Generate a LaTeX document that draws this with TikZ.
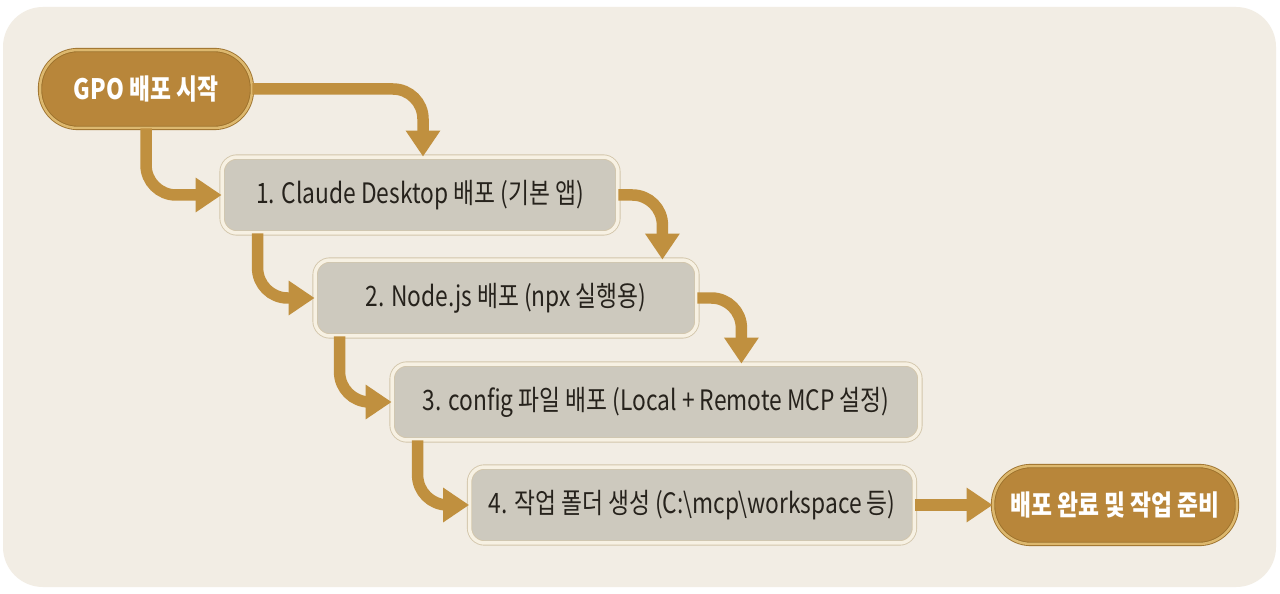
\documentclass[tikz,border=0pt]{standalone}
\usepackage{fontspec}
\setmainfont{Noto Sans CJK KR}[FakeStretch=0.81]
\usetikzlibrary{arrows.meta,calc}
\definecolor{panel}{HTML}{F2EDE4}
\definecolor{gold}{HTML}{B8863A}
\definecolor{goldring}{HTML}{DDB86E}
\definecolor{golddark}{HTML}{9C712C}
\definecolor{arrowc}{HTML}{C0903F}
\definecolor{boxfill}{HTML}{CDC9BE}
\definecolor{boxring}{HTML}{F7F1E3}
\definecolor{boxedge}{HTML}{D3C6AB}
\definecolor{txt}{HTML}{26221C}
\tikzset{
  pill/.style={draw=golddark, double=goldring, double distance=0.05cm, line width=0.5pt,
    fill=gold, rounded corners=0.76cm, inner sep=0pt, text=white,
    font=\bfseries\fontsize{16}{19}\selectfont},
  stepbox/.style={draw=boxedge, double=boxring, double distance=0.07cm, line width=0.5pt,
    fill=boxfill, rounded corners=0.3cm, inner sep=0pt, minimum height=1.52cm, text=txt,
    font=\fontsize{16}{19}\selectfont},
  flow/.style={draw=arrowc, line width=0.23cm, rounded corners=0.6cm,
    -{Triangle[width=0.66cm,length=0.52cm]}}
}
\begin{document}
\begin{tikzpicture}[x=0.02cm,y=-0.02cm]
\useasboundingbox (0,0) rectangle (1280,594);
\fill[white] (0,0) rectangle (1280,594);
\fill[panel] (3,7) [rounded corners=0.8cm] rectangle (1276,587);
% nodes
\node[pill, minimum width=4.24cm, minimum height=1.56cm] (start) at (146,89) {GPO 배포 시작};
\node[stepbox, minimum width=7.92cm] (s1) at (420,195) {1. Claude Desktop 배포 (기본 앱)};
\node[stepbox, minimum width=7.64cm] (s2) at (506,298) {2. Node.js 배포 (npx 실행용)};
\node[stepbox, minimum width=10.56cm] (s3) at (656,402) {3. config 파일 배포 (Local + Remote MCP 설정)};
\node[stepbox, minimum width=8.9cm] (s4) at (692,505) {4. 작업 폴더 생성 (C:\textbackslash mcp\textbackslash workspace 등)};
\node[pill, minimum width=4.88cm, minimum height=1.56cm] (end) at (1115,505) {배포 완료 및 작업 준비};
% connectors
\draw[flow] (start.east) -| ([xshift=0.06cm]s1.north);
\draw[flow] (start.south) |- (s1.west);
\draw[flow] (s1.east) -| ([xshift=0.88cm]s1.east |- s2.north);
\draw[flow] ([xshift=0.72cm]s1.south west) |- (s2.west);
\draw[flow] (s2.east) -| ([xshift=0.88cm]s2.east |- s3.north);
\draw[flow] ([xshift=0.5cm]s2.south west) |- (s3.west);
\draw[flow] ([xshift=0.52cm]s3.south west) |- (s4.west);
\draw[flow] (s4.east) -- (end.west);
\end{tikzpicture}
\end{document}
